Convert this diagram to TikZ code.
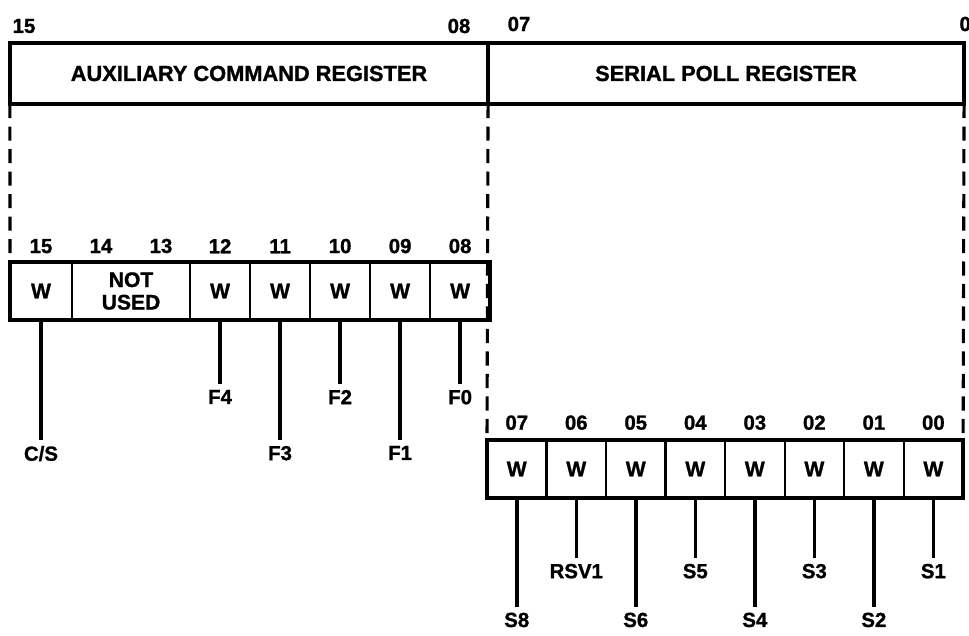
\documentclass[tikz,border=0pt]{standalone}
\usepackage{fontspec}
\setmainfont{Liberation Sans}[BoldFeatures={FakeBold=1.2}]
\usetikzlibrary{positioning}

\tikzset{
  regbox/.style={draw, line width=2.8pt, outer sep=0pt, inner sep=0pt,
    minimum height=1.525cm, font=\fontsize{15.5}{16}\selectfont\bfseries},
  cell/.style={draw, line width=1.5pt, outer sep=0pt, inner sep=0pt,
    minimum width=1.5cm, minimum height=1.45cm,
    font=\fontsize{15}{16}\selectfont\bfseries, align=center},
  bitnum/.style={inner sep=3pt, font=\fontsize{14.5}{15}\selectfont\bfseries},
  sig/.style={inner sep=4pt, font=\fontsize{14.5}{15}\selectfont\bfseries},
  wire/.style={line width=2.5pt},
  guide/.style={line width=2.2pt, dash pattern=on 10pt off 6pt},
  outline/.style={line width=3pt}
}

\begin{document}
\begin{tikzpicture}[x=0.025cm, y=-0.025cm]
\useasboundingbox (0,0) rectangle (969,636);

        % upper register, split in two halves
        \node[regbox, minimum width=11.95cm] (aux) at (249,73.5) {AUXILIARY COMMAND REGISTER};
        \node[regbox, minimum width=11.9cm] (spr) at (726,73.5) {SERIAL POLL REGISTER};

        % bit numbers over the upper register
        \node[bitnum] (t15) at (24,26) {15};
        \node[bitnum] (t08) at (459,26) {08};
        \node[bitnum] (t07) at (519,24) {07};
        \node[bitnum, anchor=west] (t00) at (955,24) {0};

        % lower left: auxiliary command bits
        \node[cell, minimum width=1.55cm, anchor=west] (c15) at (10,291) {W};
        \node[cell, minimum width=2.95cm, right=0pt of c15] (nu) {NOT\\USED};
        \node[cell, right=0pt of nu] (c12) {W};
        \node[cell, right=0pt of c12] (c11) {W};
        \node[cell, right=0pt of c11] (c10) {W};
        \node[cell, right=0pt of c10] (c09) {W};
        \node[cell, right=0pt of c09] (c08) {W};
        \draw[outline] (c15.north west) rectangle (c08.south east);

        \node[bitnum, above=3pt of c15] (n15) {15};
        \node[bitnum] (n14) at (101,246) {14};
        \node[bitnum] (n13) at (161,246) {13};
        \node[bitnum, above=3pt of c12] (n12) {12};
        \node[bitnum, above=3pt of c11] (n11) {11};
        \node[bitnum, above=3pt of c10] (n10) {10};
        \node[bitnum, above=3pt of c09] (n09) {09};
        \node[bitnum, above=3pt of c08] (n08) {08};

        % signal names of the command bits
        \node[sig, below=3cm of c15] (cs) {C/S};
        \node[sig, below=1.6cm of c12] (f4) {F4};
        \node[sig, below=3cm of c11] (f3) {F3};
        \node[sig, below=1.6cm of c10] (f2) {F2};
        \node[sig, below=3cm of c09] (f1) {F1};
        \node[sig, below=1.6cm of c08] (f0) {F0};

        \draw[wire] (c15.south) -- (cs.north);
        \draw[wire] (c12.south) -- (f4.north);
        \draw[wire] (c11.south) -- (f3.north);
        \draw[wire] (c10.south) -- (f2.north);
        \draw[wire] (c09.south) -- (f1.north);
        \draw[wire] (c08.south) -- (f0.north);

        % lower right: serial poll bits
        \node[cell, minimum width=1.4875cm, anchor=west] (r07) at (487,469) {W};
        \node[cell, minimum width=1.4875cm, right=0pt of r07] (r06) {W};
        \node[cell, minimum width=1.4875cm, right=0pt of r06] (r05) {W};
        \node[cell, minimum width=1.4875cm, right=0pt of r05] (r04) {W};
        \node[cell, minimum width=1.4875cm, right=0pt of r04] (r03) {W};
        \node[cell, minimum width=1.4875cm, right=0pt of r03] (r02) {W};
        \node[cell, minimum width=1.4875cm, right=0pt of r02] (r01) {W};
        \node[cell, minimum width=1.4875cm, right=0pt of r01] (r00) {W};
        \draw[outline] (r07.north west) rectangle (r00.south east);

        \node[bitnum, above=4pt of r07] (m07) {07};
        \node[bitnum, above=4pt of r06] (m06) {06};
        \node[bitnum, above=4pt of r05] (m05) {05};
        \node[bitnum, above=4pt of r04] (m04) {04};
        \node[bitnum, above=4pt of r03] (m03) {03};
        \node[bitnum, above=4pt of r02] (m02) {02};
        \node[bitnum, above=4pt of r01] (m01) {01};
        \node[bitnum, above=4pt of r00] (m00) {00};

        % signal names of the serial poll bits
        \node[sig, below=2.72cm of r07] (s8) {S8};
        \node[sig, below=1.5cm of r06] (rsv) {RSV1};
        \node[sig, below=2.72cm of r05] (s6) {S6};
        \node[sig, below=1.5cm of r04] (s5) {S5};
        \node[sig, below=2.72cm of r03] (s4) {S4};
        \node[sig, below=1.5cm of r02] (s3) {S3};
        \node[sig, below=2.72cm of r01] (s2) {S2};
        \node[sig, below=1.5cm of r00] (s1) {S1};

        \draw[wire] (r07.south) -- (s8.north);
        \draw[wire] (r06.south) -- (rsv.north);
        \draw[wire] (r05.south) -- (s6.north);
        \draw[wire] (r04.south) -- (s5.north);
        \draw[wire] (r03.south) -- (s4.north);
        \draw[wire] (r02.south) -- (s3.north);
        \draw[wire] (r01.south) -- (s2.north);
        \draw[wire] (r00.south) -- (s1.north);

        % dashed guides down from the upper register
        \draw[guide] (aux.south west) -- (c15.north west);
        \draw[guide] (aux.south east) -- (r07.north west);
        \draw[guide] (spr.south east) -- (r00.north east);
\end{tikzpicture}
\end{document}
